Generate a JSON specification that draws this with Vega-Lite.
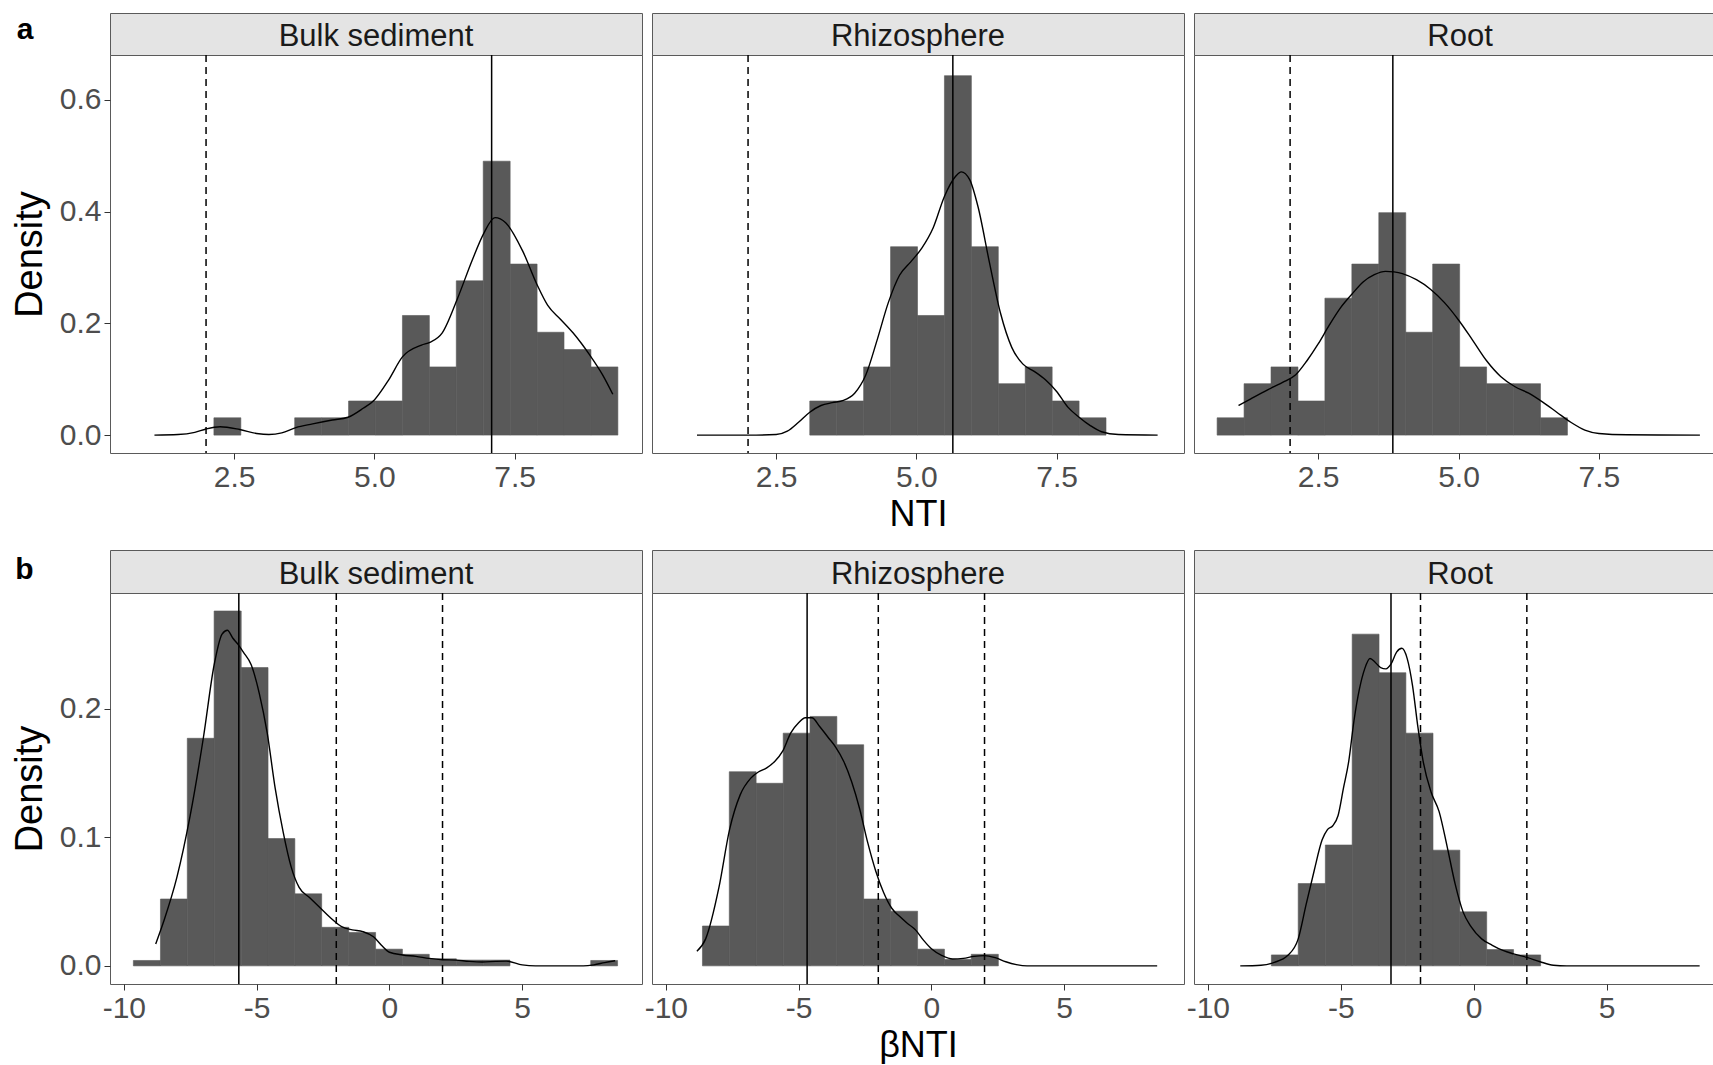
{
  "$schema": "https://vega.github.io/schema/vega-lite/v6.json",
  "background": "white",
  "padding": {"left": 10, "top": 12, "right": 0, "bottom": 0},
  "autosize": {"type": "pad"},
  "config": {
    "font": "Liberation Sans",
    "view": {"stroke": "#5a5a5a", "strokeWidth": 1},
    "axis": {"domain": false, "grid": false, "ticks": true, "tickColor": "#333333", "tickSize": 6, "tickWidth": 1, "labelFont": "Liberation Sans", "labelFontSize": 30, "labelColor": "#4d4d4d", "labelPadding": 3, "labelFlush": false, "titleFont": "Liberation Sans", "titleFontSize": 38, "titleFontWeight": "normal", "titleColor": "#000000"},
    "axisX": {"titlePadding": 5, "titleFontSize": 36},
    "axisY": {"titlePadding": 10},
    "legend": {"disable": true}
  },
  "datasets": {
    "bars": [
      {"row": "a", "panel": "Bulk sediment", "x0": 2.14, "x1": 2.62, "density": 0.031},
      {"row": "a", "panel": "Bulk sediment", "x0": 3.58, "x1": 4.06, "density": 0.031},
      {"row": "a", "panel": "Bulk sediment", "x0": 4.06, "x1": 4.54, "density": 0.031},
      {"row": "a", "panel": "Bulk sediment", "x0": 4.54, "x1": 5.02, "density": 0.061},
      {"row": "a", "panel": "Bulk sediment", "x0": 5.02, "x1": 5.50, "density": 0.061},
      {"row": "a", "panel": "Bulk sediment", "x0": 5.50, "x1": 5.98, "density": 0.214},
      {"row": "a", "panel": "Bulk sediment", "x0": 5.98, "x1": 6.46, "density": 0.122},
      {"row": "a", "panel": "Bulk sediment", "x0": 6.46, "x1": 6.94, "density": 0.276},
      {"row": "a", "panel": "Bulk sediment", "x0": 6.94, "x1": 7.42, "density": 0.490},
      {"row": "a", "panel": "Bulk sediment", "x0": 7.42, "x1": 7.90, "density": 0.306},
      {"row": "a", "panel": "Bulk sediment", "x0": 7.90, "x1": 8.38, "density": 0.184},
      {"row": "a", "panel": "Bulk sediment", "x0": 8.38, "x1": 8.86, "density": 0.153},
      {"row": "a", "panel": "Bulk sediment", "x0": 8.86, "x1": 9.34, "density": 0.122},
      {"row": "a", "panel": "Rhizosphere", "x0": 3.10, "x1": 3.58, "density": 0.061},
      {"row": "a", "panel": "Rhizosphere", "x0": 3.58, "x1": 4.06, "density": 0.061},
      {"row": "a", "panel": "Rhizosphere", "x0": 4.06, "x1": 4.54, "density": 0.122},
      {"row": "a", "panel": "Rhizosphere", "x0": 4.54, "x1": 5.02, "density": 0.337},
      {"row": "a", "panel": "Rhizosphere", "x0": 5.02, "x1": 5.50, "density": 0.214},
      {"row": "a", "panel": "Rhizosphere", "x0": 5.50, "x1": 5.98, "density": 0.643},
      {"row": "a", "panel": "Rhizosphere", "x0": 5.98, "x1": 6.46, "density": 0.337},
      {"row": "a", "panel": "Rhizosphere", "x0": 6.46, "x1": 6.94, "density": 0.092},
      {"row": "a", "panel": "Rhizosphere", "x0": 6.94, "x1": 7.42, "density": 0.122},
      {"row": "a", "panel": "Rhizosphere", "x0": 7.42, "x1": 7.90, "density": 0.061},
      {"row": "a", "panel": "Rhizosphere", "x0": 7.90, "x1": 8.38, "density": 0.031},
      {"row": "a", "panel": "Root", "x0": 0.70, "x1": 1.18, "density": 0.031},
      {"row": "a", "panel": "Root", "x0": 1.18, "x1": 1.66, "density": 0.092},
      {"row": "a", "panel": "Root", "x0": 1.66, "x1": 2.14, "density": 0.122},
      {"row": "a", "panel": "Root", "x0": 2.14, "x1": 2.62, "density": 0.061},
      {"row": "a", "panel": "Root", "x0": 2.62, "x1": 3.10, "density": 0.245},
      {"row": "a", "panel": "Root", "x0": 3.10, "x1": 3.58, "density": 0.306},
      {"row": "a", "panel": "Root", "x0": 3.58, "x1": 4.06, "density": 0.398},
      {"row": "a", "panel": "Root", "x0": 4.06, "x1": 4.54, "density": 0.184},
      {"row": "a", "panel": "Root", "x0": 4.54, "x1": 5.02, "density": 0.306},
      {"row": "a", "panel": "Root", "x0": 5.02, "x1": 5.50, "density": 0.122},
      {"row": "a", "panel": "Root", "x0": 5.50, "x1": 5.98, "density": 0.092},
      {"row": "a", "panel": "Root", "x0": 5.98, "x1": 6.46, "density": 0.092},
      {"row": "a", "panel": "Root", "x0": 6.46, "x1": 6.94, "density": 0.031},
      {"row": "b", "panel": "Bulk sediment", "x0": -9.64, "x1": -8.62, "density": 0.0042},
      {"row": "b", "panel": "Bulk sediment", "x0": -8.62, "x1": -7.61, "density": 0.052},
      {"row": "b", "panel": "Bulk sediment", "x0": -7.61, "x1": -6.60, "density": 0.177},
      {"row": "b", "panel": "Bulk sediment", "x0": -6.60, "x1": -5.58, "density": 0.276},
      {"row": "b", "panel": "Bulk sediment", "x0": -5.58, "x1": -4.57, "density": 0.232},
      {"row": "b", "panel": "Bulk sediment", "x0": -4.57, "x1": -3.56, "density": 0.099},
      {"row": "b", "panel": "Bulk sediment", "x0": -3.56, "x1": -2.55, "density": 0.056},
      {"row": "b", "panel": "Bulk sediment", "x0": -2.55, "x1": -1.53, "density": 0.030},
      {"row": "b", "panel": "Bulk sediment", "x0": -1.53, "x1": -0.52, "density": 0.026},
      {"row": "b", "panel": "Bulk sediment", "x0": -0.52, "x1": 0.49, "density": 0.013},
      {"row": "b", "panel": "Bulk sediment", "x0": 0.49, "x1": 1.50, "density": 0.009},
      {"row": "b", "panel": "Bulk sediment", "x0": 1.50, "x1": 2.52, "density": 0.0055},
      {"row": "b", "panel": "Bulk sediment", "x0": 2.52, "x1": 3.53, "density": 0.0045},
      {"row": "b", "panel": "Bulk sediment", "x0": 3.53, "x1": 4.54, "density": 0.0045},
      {"row": "b", "panel": "Bulk sediment", "x0": 7.58, "x1": 8.59, "density": 0.0042},
      {"row": "b", "panel": "Rhizosphere", "x0": -8.62, "x1": -7.61, "density": 0.031},
      {"row": "b", "panel": "Rhizosphere", "x0": -7.61, "x1": -6.60, "density": 0.151},
      {"row": "b", "panel": "Rhizosphere", "x0": -6.60, "x1": -5.58, "density": 0.142},
      {"row": "b", "panel": "Rhizosphere", "x0": -5.58, "x1": -4.57, "density": 0.181},
      {"row": "b", "panel": "Rhizosphere", "x0": -4.57, "x1": -3.56, "density": 0.194},
      {"row": "b", "panel": "Rhizosphere", "x0": -3.56, "x1": -2.55, "density": 0.172},
      {"row": "b", "panel": "Rhizosphere", "x0": -2.55, "x1": -1.53, "density": 0.052},
      {"row": "b", "panel": "Rhizosphere", "x0": -1.53, "x1": -0.52, "density": 0.0425},
      {"row": "b", "panel": "Rhizosphere", "x0": -0.52, "x1": 0.49, "density": 0.013},
      {"row": "b", "panel": "Rhizosphere", "x0": 0.49, "x1": 1.50, "density": 0.005},
      {"row": "b", "panel": "Rhizosphere", "x0": 1.50, "x1": 2.52, "density": 0.009},
      {"row": "b", "panel": "Root", "x0": -7.61, "x1": -6.60, "density": 0.0085},
      {"row": "b", "panel": "Root", "x0": -6.60, "x1": -5.58, "density": 0.064},
      {"row": "b", "panel": "Root", "x0": -5.58, "x1": -4.57, "density": 0.094},
      {"row": "b", "panel": "Root", "x0": -4.57, "x1": -3.56, "density": 0.258},
      {"row": "b", "panel": "Root", "x0": -3.56, "x1": -2.55, "density": 0.228},
      {"row": "b", "panel": "Root", "x0": -2.55, "x1": -1.53, "density": 0.181},
      {"row": "b", "panel": "Root", "x0": -1.53, "x1": -0.52, "density": 0.090},
      {"row": "b", "panel": "Root", "x0": -0.52, "x1": 0.49, "density": 0.042},
      {"row": "b", "panel": "Root", "x0": 0.49, "x1": 1.50, "density": 0.0127},
      {"row": "b", "panel": "Root", "x0": 1.50, "x1": 2.52, "density": 0.0085}
    ],
    "dens": [
      {"row": "a", "panel": "Bulk sediment", "x": 1.08, "density": 0.0},
      {"row": "a", "panel": "Bulk sediment", "x": 1.5, "density": 0.001},
      {"row": "a", "panel": "Bulk sediment", "x": 1.8, "density": 0.005},
      {"row": "a", "panel": "Bulk sediment", "x": 2.0, "density": 0.011},
      {"row": "a", "panel": "Bulk sediment", "x": 2.25, "density": 0.015},
      {"row": "a", "panel": "Bulk sediment", "x": 2.6, "density": 0.010},
      {"row": "a", "panel": "Bulk sediment", "x": 2.9, "density": 0.003},
      {"row": "a", "panel": "Bulk sediment", "x": 3.12, "density": 0.001},
      {"row": "a", "panel": "Bulk sediment", "x": 3.35, "density": 0.004},
      {"row": "a", "panel": "Bulk sediment", "x": 3.6, "density": 0.0135},
      {"row": "a", "panel": "Bulk sediment", "x": 3.9, "density": 0.020},
      {"row": "a", "panel": "Bulk sediment", "x": 4.25, "density": 0.027},
      {"row": "a", "panel": "Bulk sediment", "x": 4.53, "density": 0.032},
      {"row": "a", "panel": "Bulk sediment", "x": 4.8, "density": 0.048},
      {"row": "a", "panel": "Bulk sediment", "x": 5.0, "density": 0.063},
      {"row": "a", "panel": "Bulk sediment", "x": 5.25, "density": 0.098},
      {"row": "a", "panel": "Bulk sediment", "x": 5.5, "density": 0.140},
      {"row": "a", "panel": "Bulk sediment", "x": 5.84, "density": 0.161},
      {"row": "a", "panel": "Bulk sediment", "x": 5.99, "density": 0.166},
      {"row": "a", "panel": "Bulk sediment", "x": 6.21, "density": 0.183},
      {"row": "a", "panel": "Bulk sediment", "x": 6.48, "density": 0.244},
      {"row": "a", "panel": "Bulk sediment", "x": 6.74, "density": 0.312},
      {"row": "a", "panel": "Bulk sediment", "x": 6.95, "density": 0.361},
      {"row": "a", "panel": "Bulk sediment", "x": 7.15, "density": 0.389},
      {"row": "a", "panel": "Bulk sediment", "x": 7.34, "density": 0.380},
      {"row": "a", "panel": "Bulk sediment", "x": 7.64, "density": 0.330},
      {"row": "a", "panel": "Bulk sediment", "x": 7.9, "density": 0.269},
      {"row": "a", "panel": "Bulk sediment", "x": 8.09, "density": 0.232},
      {"row": "a", "panel": "Bulk sediment", "x": 8.32, "density": 0.207},
      {"row": "a", "panel": "Bulk sediment", "x": 8.54, "density": 0.183},
      {"row": "a", "panel": "Bulk sediment", "x": 8.84, "density": 0.143},
      {"row": "a", "panel": "Bulk sediment", "x": 9.06, "density": 0.109},
      {"row": "a", "panel": "Bulk sediment", "x": 9.25, "density": 0.073},
      {"row": "a", "panel": "Rhizosphere", "x": 1.09, "density": 0.0},
      {"row": "a", "panel": "Rhizosphere", "x": 2.0, "density": 0.0},
      {"row": "a", "panel": "Rhizosphere", "x": 2.5, "density": 0.001},
      {"row": "a", "panel": "Rhizosphere", "x": 2.7, "density": 0.007},
      {"row": "a", "panel": "Rhizosphere", "x": 2.9, "density": 0.023},
      {"row": "a", "panel": "Rhizosphere", "x": 3.1, "density": 0.041},
      {"row": "a", "panel": "Rhizosphere", "x": 3.3, "density": 0.053},
      {"row": "a", "panel": "Rhizosphere", "x": 3.5, "density": 0.058},
      {"row": "a", "panel": "Rhizosphere", "x": 3.7, "density": 0.062},
      {"row": "a", "panel": "Rhizosphere", "x": 3.9, "density": 0.075},
      {"row": "a", "panel": "Rhizosphere", "x": 4.1, "density": 0.108},
      {"row": "a", "panel": "Rhizosphere", "x": 4.3, "density": 0.170},
      {"row": "a", "panel": "Rhizosphere", "x": 4.5, "density": 0.237},
      {"row": "a", "panel": "Rhizosphere", "x": 4.7, "density": 0.286},
      {"row": "a", "panel": "Rhizosphere", "x": 4.9, "density": 0.310},
      {"row": "a", "panel": "Rhizosphere", "x": 5.1, "density": 0.335},
      {"row": "a", "panel": "Rhizosphere", "x": 5.3, "density": 0.371},
      {"row": "a", "panel": "Rhizosphere", "x": 5.5, "density": 0.427},
      {"row": "a", "panel": "Rhizosphere", "x": 5.7, "density": 0.463},
      {"row": "a", "panel": "Rhizosphere", "x": 5.8, "density": 0.471},
      {"row": "a", "panel": "Rhizosphere", "x": 5.95, "density": 0.457},
      {"row": "a", "panel": "Rhizosphere", "x": 6.1, "density": 0.408},
      {"row": "a", "panel": "Rhizosphere", "x": 6.3, "density": 0.310},
      {"row": "a", "panel": "Rhizosphere", "x": 6.5, "density": 0.218},
      {"row": "a", "panel": "Rhizosphere", "x": 6.7, "density": 0.157},
      {"row": "a", "panel": "Rhizosphere", "x": 6.9, "density": 0.127},
      {"row": "a", "panel": "Rhizosphere", "x": 7.1, "density": 0.114},
      {"row": "a", "panel": "Rhizosphere", "x": 7.3, "density": 0.099},
      {"row": "a", "panel": "Rhizosphere", "x": 7.5, "density": 0.078},
      {"row": "a", "panel": "Rhizosphere", "x": 7.7, "density": 0.050},
      {"row": "a", "panel": "Rhizosphere", "x": 7.9, "density": 0.032},
      {"row": "a", "panel": "Rhizosphere", "x": 8.1, "density": 0.017},
      {"row": "a", "panel": "Rhizosphere", "x": 8.3, "density": 0.006},
      {"row": "a", "panel": "Rhizosphere", "x": 8.6, "density": 0.001},
      {"row": "a", "panel": "Rhizosphere", "x": 9.3, "density": 0.0},
      {"row": "a", "panel": "Root", "x": 1.08, "density": 0.053},
      {"row": "a", "panel": "Root", "x": 1.3, "density": 0.065},
      {"row": "a", "panel": "Root", "x": 1.6, "density": 0.081},
      {"row": "a", "panel": "Root", "x": 1.9, "density": 0.096},
      {"row": "a", "panel": "Root", "x": 2.1, "density": 0.108},
      {"row": "a", "panel": "Root", "x": 2.3, "density": 0.133},
      {"row": "a", "panel": "Root", "x": 2.5, "density": 0.163},
      {"row": "a", "panel": "Root", "x": 2.7, "density": 0.197},
      {"row": "a", "panel": "Root", "x": 2.9, "density": 0.228},
      {"row": "a", "panel": "Root", "x": 3.1, "density": 0.252},
      {"row": "a", "panel": "Root", "x": 3.3, "density": 0.274},
      {"row": "a", "panel": "Root", "x": 3.5, "density": 0.287},
      {"row": "a", "panel": "Root", "x": 3.7, "density": 0.293},
      {"row": "a", "panel": "Root", "x": 3.85, "density": 0.292},
      {"row": "a", "panel": "Root", "x": 4.0, "density": 0.289},
      {"row": "a", "panel": "Root", "x": 4.25, "density": 0.278},
      {"row": "a", "panel": "Root", "x": 4.5, "density": 0.261},
      {"row": "a", "panel": "Root", "x": 4.75, "density": 0.237},
      {"row": "a", "panel": "Root", "x": 5.0, "density": 0.206},
      {"row": "a", "panel": "Root", "x": 5.25, "density": 0.170},
      {"row": "a", "panel": "Root", "x": 5.5, "density": 0.133},
      {"row": "a", "panel": "Root", "x": 5.75, "density": 0.105},
      {"row": "a", "panel": "Root", "x": 6.0, "density": 0.087},
      {"row": "a", "panel": "Root", "x": 6.25, "density": 0.075},
      {"row": "a", "panel": "Root", "x": 6.5, "density": 0.059},
      {"row": "a", "panel": "Root", "x": 6.75, "density": 0.041},
      {"row": "a", "panel": "Root", "x": 7.0, "density": 0.023},
      {"row": "a", "panel": "Root", "x": 7.25, "density": 0.009},
      {"row": "a", "panel": "Root", "x": 7.5, "density": 0.003},
      {"row": "a", "panel": "Root", "x": 8.0, "density": 0.0006},
      {"row": "a", "panel": "Root", "x": 9.3, "density": 0.0},
      {"row": "b", "panel": "Bulk sediment", "x": -8.8, "density": 0.017},
      {"row": "b", "panel": "Bulk sediment", "x": -8.5, "density": 0.0345},
      {"row": "b", "panel": "Bulk sediment", "x": -8.0, "density": 0.069},
      {"row": "b", "panel": "Bulk sediment", "x": -7.5, "density": 0.117},
      {"row": "b", "panel": "Bulk sediment", "x": -7.0, "density": 0.178},
      {"row": "b", "panel": "Bulk sediment", "x": -6.6, "density": 0.234},
      {"row": "b", "panel": "Bulk sediment", "x": -6.3, "density": 0.258},
      {"row": "b", "panel": "Bulk sediment", "x": -6.1, "density": 0.261},
      {"row": "b", "panel": "Bulk sediment", "x": -5.9, "density": 0.255},
      {"row": "b", "panel": "Bulk sediment", "x": -5.7, "density": 0.250},
      {"row": "b", "panel": "Bulk sediment", "x": -5.5, "density": 0.244},
      {"row": "b", "panel": "Bulk sediment", "x": -5.2, "density": 0.234},
      {"row": "b", "panel": "Bulk sediment", "x": -4.9, "density": 0.212},
      {"row": "b", "panel": "Bulk sediment", "x": -4.6, "density": 0.181},
      {"row": "b", "panel": "Bulk sediment", "x": -4.3, "density": 0.138},
      {"row": "b", "panel": "Bulk sediment", "x": -4.0, "density": 0.104},
      {"row": "b", "panel": "Bulk sediment", "x": -3.7, "density": 0.077},
      {"row": "b", "panel": "Bulk sediment", "x": -3.4, "density": 0.061},
      {"row": "b", "panel": "Bulk sediment", "x": -3.0, "density": 0.053},
      {"row": "b", "panel": "Bulk sediment", "x": -2.6, "density": 0.045},
      {"row": "b", "panel": "Bulk sediment", "x": -2.2, "density": 0.037},
      {"row": "b", "panel": "Bulk sediment", "x": -1.8, "density": 0.0305},
      {"row": "b", "panel": "Bulk sediment", "x": -1.4, "density": 0.028},
      {"row": "b", "panel": "Bulk sediment", "x": -1.0, "density": 0.0266},
      {"row": "b", "panel": "Bulk sediment", "x": -0.6, "density": 0.0226},
      {"row": "b", "panel": "Bulk sediment", "x": -0.3, "density": 0.016},
      {"row": "b", "panel": "Bulk sediment", "x": 0.0, "density": 0.0106},
      {"row": "b", "panel": "Bulk sediment", "x": 0.5, "density": 0.0085},
      {"row": "b", "panel": "Bulk sediment", "x": 1.0, "density": 0.0074},
      {"row": "b", "panel": "Bulk sediment", "x": 1.5, "density": 0.0058},
      {"row": "b", "panel": "Bulk sediment", "x": 2.0, "density": 0.0048},
      {"row": "b", "panel": "Bulk sediment", "x": 2.5, "density": 0.0045},
      {"row": "b", "panel": "Bulk sediment", "x": 3.0, "density": 0.0035},
      {"row": "b", "panel": "Bulk sediment", "x": 3.5, "density": 0.003},
      {"row": "b", "panel": "Bulk sediment", "x": 4.0, "density": 0.0035},
      {"row": "b", "panel": "Bulk sediment", "x": 4.4, "density": 0.0037},
      {"row": "b", "panel": "Bulk sediment", "x": 5.0, "density": 0.0008},
      {"row": "b", "panel": "Bulk sediment", "x": 5.5, "density": 0.0},
      {"row": "b", "panel": "Bulk sediment", "x": 7.3, "density": 0.0},
      {"row": "b", "panel": "Bulk sediment", "x": 7.7, "density": 0.0008},
      {"row": "b", "panel": "Bulk sediment", "x": 8.1, "density": 0.0025},
      {"row": "b", "panel": "Bulk sediment", "x": 8.5, "density": 0.004},
      {"row": "b", "panel": "Rhizosphere", "x": -8.83, "density": 0.0114},
      {"row": "b", "panel": "Rhizosphere", "x": -8.5, "density": 0.021},
      {"row": "b", "panel": "Rhizosphere", "x": -8.0, "density": 0.061},
      {"row": "b", "panel": "Rhizosphere", "x": -7.6, "density": 0.106},
      {"row": "b", "panel": "Rhizosphere", "x": -7.2, "density": 0.133},
      {"row": "b", "panel": "Rhizosphere", "x": -6.8, "density": 0.146},
      {"row": "b", "panel": "Rhizosphere", "x": -6.5, "density": 0.151},
      {"row": "b", "panel": "Rhizosphere", "x": -6.2, "density": 0.154},
      {"row": "b", "panel": "Rhizosphere", "x": -5.9, "density": 0.159},
      {"row": "b", "panel": "Rhizosphere", "x": -5.6, "density": 0.167},
      {"row": "b", "panel": "Rhizosphere", "x": -5.3, "density": 0.181},
      {"row": "b", "panel": "Rhizosphere", "x": -5.0, "density": 0.189},
      {"row": "b", "panel": "Rhizosphere", "x": -4.75, "density": 0.193},
      {"row": "b", "panel": "Rhizosphere", "x": -4.5, "density": 0.193},
      {"row": "b", "panel": "Rhizosphere", "x": -4.2, "density": 0.186},
      {"row": "b", "panel": "Rhizosphere", "x": -3.9, "density": 0.178},
      {"row": "b", "panel": "Rhizosphere", "x": -3.6, "density": 0.170},
      {"row": "b", "panel": "Rhizosphere", "x": -3.3, "density": 0.159},
      {"row": "b", "panel": "Rhizosphere", "x": -3.0, "density": 0.143},
      {"row": "b", "panel": "Rhizosphere", "x": -2.7, "density": 0.122},
      {"row": "b", "panel": "Rhizosphere", "x": -2.4, "density": 0.096},
      {"row": "b", "panel": "Rhizosphere", "x": -2.1, "density": 0.074},
      {"row": "b", "panel": "Rhizosphere", "x": -1.8, "density": 0.057},
      {"row": "b", "panel": "Rhizosphere", "x": -1.5, "density": 0.045},
      {"row": "b", "panel": "Rhizosphere", "x": -1.2, "density": 0.0385},
      {"row": "b", "panel": "Rhizosphere", "x": -0.9, "density": 0.033},
      {"row": "b", "panel": "Rhizosphere", "x": -0.6, "density": 0.028},
      {"row": "b", "panel": "Rhizosphere", "x": -0.3, "density": 0.020},
      {"row": "b", "panel": "Rhizosphere", "x": 0.0, "density": 0.0133},
      {"row": "b", "panel": "Rhizosphere", "x": 0.4, "density": 0.008},
      {"row": "b", "panel": "Rhizosphere", "x": 0.8, "density": 0.0053},
      {"row": "b", "panel": "Rhizosphere", "x": 1.2, "density": 0.0058},
      {"row": "b", "panel": "Rhizosphere", "x": 1.6, "density": 0.0074},
      {"row": "b", "panel": "Rhizosphere", "x": 2.0, "density": 0.008},
      {"row": "b", "panel": "Rhizosphere", "x": 2.4, "density": 0.0064},
      {"row": "b", "panel": "Rhizosphere", "x": 2.8, "density": 0.0032},
      {"row": "b", "panel": "Rhizosphere", "x": 3.2, "density": 0.001},
      {"row": "b", "panel": "Rhizosphere", "x": 3.6, "density": 0.0},
      {"row": "b", "panel": "Rhizosphere", "x": 8.5, "density": 0.0},
      {"row": "b", "panel": "Root", "x": -8.78, "density": 0.0},
      {"row": "b", "panel": "Root", "x": -8.0, "density": 0.0005},
      {"row": "b", "panel": "Root", "x": -7.5, "density": 0.0027},
      {"row": "b", "panel": "Root", "x": -7.0, "density": 0.008},
      {"row": "b", "panel": "Root", "x": -6.6, "density": 0.021},
      {"row": "b", "panel": "Root", "x": -6.3, "density": 0.048},
      {"row": "b", "panel": "Root", "x": -6.0, "density": 0.074},
      {"row": "b", "panel": "Root", "x": -5.7, "density": 0.098},
      {"row": "b", "panel": "Root", "x": -5.5, "density": 0.106},
      {"row": "b", "panel": "Root", "x": -5.3, "density": 0.109},
      {"row": "b", "panel": "Root", "x": -5.1, "density": 0.117},
      {"row": "b", "panel": "Root", "x": -4.9, "density": 0.138},
      {"row": "b", "panel": "Root", "x": -4.7, "density": 0.159},
      {"row": "b", "panel": "Root", "x": -4.5, "density": 0.191},
      {"row": "b", "panel": "Root", "x": -4.3, "density": 0.215},
      {"row": "b", "panel": "Root", "x": -4.1, "density": 0.231},
      {"row": "b", "panel": "Root", "x": -3.9, "density": 0.239},
      {"row": "b", "panel": "Root", "x": -3.7, "density": 0.236},
      {"row": "b", "panel": "Root", "x": -3.5, "density": 0.232},
      {"row": "b", "panel": "Root", "x": -3.3, "density": 0.231},
      {"row": "b", "panel": "Root", "x": -3.1, "density": 0.235},
      {"row": "b", "panel": "Root", "x": -2.9, "density": 0.244},
      {"row": "b", "panel": "Root", "x": -2.7, "density": 0.247},
      {"row": "b", "panel": "Root", "x": -2.5, "density": 0.239},
      {"row": "b", "panel": "Root", "x": -2.3, "density": 0.218},
      {"row": "b", "panel": "Root", "x": -2.1, "density": 0.186},
      {"row": "b", "panel": "Root", "x": -1.9, "density": 0.159},
      {"row": "b", "panel": "Root", "x": -1.6, "density": 0.135},
      {"row": "b", "panel": "Root", "x": -1.3, "density": 0.120},
      {"row": "b", "panel": "Root", "x": -1.0, "density": 0.093},
      {"row": "b", "panel": "Root", "x": -0.7, "density": 0.064},
      {"row": "b", "panel": "Root", "x": -0.4, "density": 0.042},
      {"row": "b", "panel": "Root", "x": -0.1, "density": 0.0305},
      {"row": "b", "panel": "Root", "x": 0.3, "density": 0.021},
      {"row": "b", "panel": "Root", "x": 0.7, "density": 0.016},
      {"row": "b", "panel": "Root", "x": 1.1, "density": 0.012},
      {"row": "b", "panel": "Root", "x": 1.5, "density": 0.0093},
      {"row": "b", "panel": "Root", "x": 2.0, "density": 0.0066},
      {"row": "b", "panel": "Root", "x": 2.5, "density": 0.0032},
      {"row": "b", "panel": "Root", "x": 3.0, "density": 0.0005},
      {"row": "b", "panel": "Root", "x": 3.5, "density": 0.0},
      {"row": "b", "panel": "Root", "x": 8.5, "density": 0.0}
    ],
    "vlines": [
      {"row": "a", "panel": "Bulk sediment", "x": 7.09, "style": "solid"},
      {"row": "a", "panel": "Bulk sediment", "x": 2, "style": "dashed"},
      {"row": "a", "panel": "Rhizosphere", "x": 5.65, "style": "solid"},
      {"row": "a", "panel": "Rhizosphere", "x": 2, "style": "dashed"},
      {"row": "a", "panel": "Root", "x": 3.83, "style": "solid"},
      {"row": "a", "panel": "Root", "x": 2, "style": "dashed"},
      {"row": "b", "panel": "Bulk sediment", "x": -5.67, "style": "solid"},
      {"row": "b", "panel": "Bulk sediment", "x": -2, "style": "dashed"},
      {"row": "b", "panel": "Bulk sediment", "x": 2, "style": "dashed"},
      {"row": "b", "panel": "Rhizosphere", "x": -4.68, "style": "solid"},
      {"row": "b", "panel": "Rhizosphere", "x": -2, "style": "dashed"},
      {"row": "b", "panel": "Rhizosphere", "x": 2, "style": "dashed"},
      {"row": "b", "panel": "Root", "x": -3.11, "style": "solid"},
      {"row": "b", "panel": "Root", "x": -2, "style": "dashed"},
      {"row": "b", "panel": "Root", "x": 2, "style": "dashed"}
    ]
  },
  "bounds": "flush",
  "columns": 3,
  "spacing": {"row": 0, "column": 10},
  "concat": [
    {
      "width": 532, "height": 42,
      "title": {"text": "a", "orient": "left", "anchor": "middle", "angle": 0, "align": "right", "baseline": "middle", "offset": 60, "dy": -4, "fontSize": 30, "fontWeight": "bold", "font": "Liberation Sans", "color": "#000000"},
      "view": {"fill": "#e4e4e4", "stroke": "#5a5a5a"},
      "data": {"values": [{"label": "Bulk sediment"}]},
      "mark": {"type": "text", "fontSize": 31, "color": "#1a1a1a", "baseline": "middle", "dy": 3},
      "encoding": {"text": {"field": "label", "type": "nominal"}}
    },
    {
      "width": 532, "height": 42,
      "view": {"fill": "#e4e4e4", "stroke": "#5a5a5a"},
      "data": {"values": [{"label": "Rhizosphere"}]},
      "mark": {"type": "text", "fontSize": 31, "color": "#1a1a1a", "baseline": "middle", "dy": 3},
      "encoding": {"text": {"field": "label", "type": "nominal"}}
    },
    {
      "width": 520, "height": 42,
      "view": {"fill": "#e4e4e4", "stroke": "#5a5a5a"},
      "data": {"values": [{"label": "Root"}]},
      "mark": {"type": "text", "fontSize": 31, "color": "#1a1a1a", "baseline": "middle", "dy": 3, "dx": 6},
      "encoding": {"text": {"field": "label", "type": "nominal"}}
    },
    {
      "width": 532, "height": 398,
      "layer": [
        {"data": {"name": "bars"}, "transform": [{"filter": "datum.row === 'a' && datum.panel === 'Bulk sediment'"}],
         "mark": {"type": "rect", "color": "#595959", "stroke": "#595959", "strokeWidth": 0.6},
         "encoding": {
           "x": {"field": "x0", "type": "quantitative", "scale": {"domain": [0.288, 9.77], "nice": false, "zero": false}, "axis": {"values": [2.5, 5, 7.5], "format": ".1f", "title": null}},
           "x2": {"field": "x1"},
           "y": {"field": "density", "type": "quantitative", "scale": {"domain": [-0.032, 0.68], "nice": false, "zero": false}, "axis": {"values": [0, 0.2, 0.4, 0.6], "format": ".1f", "title": "Density"}},
           "y2": {"datum": 0}}},
        {"data": {"name": "dens"}, "transform": [{"filter": "datum.row === 'a' && datum.panel === 'Bulk sediment'"}],
         "mark": {"type": "line", "color": "#000000", "strokeWidth": 1.4, "interpolate": "monotone"},
         "encoding": {"x": {"field": "x", "type": "quantitative"}, "y": {"field": "density", "type": "quantitative"}}},
        {"data": {"name": "vlines"}, "transform": [{"filter": "datum.row === 'a' && datum.panel === 'Bulk sediment'"}],
         "mark": {"type": "rule", "color": "#000000", "strokeWidth": 1.5},
         "encoding": {"x": {"field": "x", "type": "quantitative"}, "strokeDash": {"field": "style", "type": "nominal", "scale": {"domain": ["solid", "dashed"], "range": [[1, 0], [7, 5]]}, "legend": null}}}
      ]
    },
    {
      "width": 532, "height": 398,
      "layer": [
        {"data": {"name": "bars"}, "transform": [{"filter": "datum.row === 'a' && datum.panel === 'Rhizosphere'"}],
         "mark": {"type": "rect", "color": "#595959", "stroke": "#595959", "strokeWidth": 0.6},
         "encoding": {
           "x": {"field": "x0", "type": "quantitative", "scale": {"domain": [0.288, 9.77], "nice": false, "zero": false}, "axis": {"values": [2.5, 5, 7.5], "format": ".1f", "title": "NTI"}},
           "x2": {"field": "x1"},
           "y": {"field": "density", "type": "quantitative", "scale": {"domain": [-0.032, 0.68], "nice": false, "zero": false}, "axis": null},
           "y2": {"datum": 0}}},
        {"data": {"name": "dens"}, "transform": [{"filter": "datum.row === 'a' && datum.panel === 'Rhizosphere'"}],
         "mark": {"type": "line", "color": "#000000", "strokeWidth": 1.4, "interpolate": "monotone"},
         "encoding": {"x": {"field": "x", "type": "quantitative"}, "y": {"field": "density", "type": "quantitative"}}},
        {"data": {"name": "vlines"}, "transform": [{"filter": "datum.row === 'a' && datum.panel === 'Rhizosphere'"}],
         "mark": {"type": "rule", "color": "#000000", "strokeWidth": 1.5},
         "encoding": {"x": {"field": "x", "type": "quantitative"}, "strokeDash": {"field": "style", "type": "nominal", "scale": {"domain": ["solid", "dashed"], "range": [[1, 0], [7, 5]]}, "legend": null}}}
      ]
    },
    {
      "width": 520, "height": 398,
      "layer": [
        {"data": {"name": "bars"}, "transform": [{"filter": "datum.row === 'a' && datum.panel === 'Root'"}],
         "mark": {"type": "rect", "color": "#595959", "stroke": "#595959", "strokeWidth": 0.6},
         "encoding": {
           "x": {"field": "x0", "type": "quantitative", "scale": {"domain": [0.288, 9.551], "nice": false, "zero": false}, "axis": {"values": [2.5, 5, 7.5], "format": ".1f", "title": null}},
           "x2": {"field": "x1"},
           "y": {"field": "density", "type": "quantitative", "scale": {"domain": [-0.032, 0.68], "nice": false, "zero": false}, "axis": null},
           "y2": {"datum": 0}}},
        {"data": {"name": "dens"}, "transform": [{"filter": "datum.row === 'a' && datum.panel === 'Root'"}],
         "mark": {"type": "line", "color": "#000000", "strokeWidth": 1.4, "interpolate": "monotone"},
         "encoding": {"x": {"field": "x", "type": "quantitative"}, "y": {"field": "density", "type": "quantitative"}}},
        {"data": {"name": "vlines"}, "transform": [{"filter": "datum.row === 'a' && datum.panel === 'Root'"}],
         "mark": {"type": "rule", "color": "#000000", "strokeWidth": 1.5},
         "encoding": {"x": {"field": "x", "type": "quantitative"}, "strokeDash": {"field": "style", "type": "nominal", "scale": {"domain": ["solid", "dashed"], "range": [[1, 0], [7, 5]]}, "legend": null}}}
      ]
    },
    {"width": 532, "height": 97, "view": {"stroke": null}, "data": {"values": []}, "mark": {"type": "text"}, "encoding": {}},
    {"width": 532, "height": 97, "view": {"stroke": null}, "data": {"values": []}, "mark": {"type": "text"}, "encoding": {}},
    {"width": 520, "height": 97, "view": {"stroke": null}, "data": {"values": []}, "mark": {"type": "text"}, "encoding": {}},
    {
      "width": 532, "height": 43,
      "title": {"text": "b", "orient": "left", "anchor": "middle", "angle": 0, "align": "right", "baseline": "middle", "offset": 58, "dy": -2, "fontSize": 30, "fontWeight": "bold", "font": "Liberation Sans", "color": "#000000"},
      "view": {"fill": "#e4e4e4", "stroke": "#5a5a5a"},
      "data": {"values": [{"label": "Bulk sediment"}]},
      "mark": {"type": "text", "fontSize": 31, "color": "#1a1a1a", "baseline": "middle", "dy": 3},
      "encoding": {"text": {"field": "label", "type": "nominal"}}
    },
    {
      "width": 532, "height": 43,
      "view": {"fill": "#e4e4e4", "stroke": "#5a5a5a"},
      "data": {"values": [{"label": "Rhizosphere"}]},
      "mark": {"type": "text", "fontSize": 31, "color": "#1a1a1a", "baseline": "middle", "dy": 3},
      "encoding": {"text": {"field": "label", "type": "nominal"}}
    },
    {
      "width": 520, "height": 43,
      "view": {"fill": "#e4e4e4", "stroke": "#5a5a5a"},
      "data": {"values": [{"label": "Root"}]},
      "mark": {"type": "text", "fontSize": 31, "color": "#1a1a1a", "baseline": "middle", "dy": 3, "dx": 6},
      "encoding": {"text": {"field": "label", "type": "nominal"}}
    },
    {
      "width": 532, "height": 391,
      "layer": [
        {"data": {"name": "bars"}, "transform": [{"filter": "datum.row === 'b' && datum.panel === 'Bulk sediment'"}],
         "mark": {"type": "rect", "color": "#595959", "stroke": "#595959", "strokeWidth": 0.6},
         "encoding": {
           "x": {"field": "x0", "type": "quantitative", "scale": {"domain": [-10.52, 9.51], "nice": false, "zero": false}, "axis": {"values": [-10, -5, 0, 5], "labelExpr": "'' + datum.value", "title": null}},
           "x2": {"field": "x1"},
           "y": {"field": "density", "type": "quantitative", "scale": {"domain": [-0.0141, 0.29], "nice": false, "zero": false}, "axis": {"values": [0, 0.1, 0.2], "format": ".1f", "title": "Density"}},
           "y2": {"datum": 0}}},
        {"data": {"name": "dens"}, "transform": [{"filter": "datum.row === 'b' && datum.panel === 'Bulk sediment'"}],
         "mark": {"type": "line", "color": "#000000", "strokeWidth": 1.4, "interpolate": "monotone"},
         "encoding": {"x": {"field": "x", "type": "quantitative"}, "y": {"field": "density", "type": "quantitative"}}},
        {"data": {"name": "vlines"}, "transform": [{"filter": "datum.row === 'b' && datum.panel === 'Bulk sediment'"}],
         "mark": {"type": "rule", "color": "#000000", "strokeWidth": 1.5},
         "encoding": {"x": {"field": "x", "type": "quantitative"}, "strokeDash": {"field": "style", "type": "nominal", "scale": {"domain": ["solid", "dashed"], "range": [[1, 0], [7, 5]]}, "legend": null}}}
      ]
    },
    {
      "width": 532, "height": 391,
      "layer": [
        {"data": {"name": "bars"}, "transform": [{"filter": "datum.row === 'b' && datum.panel === 'Rhizosphere'"}],
         "mark": {"type": "rect", "color": "#595959", "stroke": "#595959", "strokeWidth": 0.6},
         "encoding": {
           "x": {"field": "x0", "type": "quantitative", "scale": {"domain": [-10.52, 9.51], "nice": false, "zero": false}, "axis": {"values": [-10, -5, 0, 5], "labelExpr": "'' + datum.value", "title": "βNTI"}},
           "x2": {"field": "x1"},
           "y": {"field": "density", "type": "quantitative", "scale": {"domain": [-0.0141, 0.29], "nice": false, "zero": false}, "axis": null},
           "y2": {"datum": 0}}},
        {"data": {"name": "dens"}, "transform": [{"filter": "datum.row === 'b' && datum.panel === 'Rhizosphere'"}],
         "mark": {"type": "line", "color": "#000000", "strokeWidth": 1.4, "interpolate": "monotone"},
         "encoding": {"x": {"field": "x", "type": "quantitative"}, "y": {"field": "density", "type": "quantitative"}}},
        {"data": {"name": "vlines"}, "transform": [{"filter": "datum.row === 'b' && datum.panel === 'Rhizosphere'"}],
         "mark": {"type": "rule", "color": "#000000", "strokeWidth": 1.5},
         "encoding": {"x": {"field": "x", "type": "quantitative"}, "strokeDash": {"field": "style", "type": "nominal", "scale": {"domain": ["solid", "dashed"], "range": [[1, 0], [7, 5]]}, "legend": null}}}
      ]
    },
    {
      "width": 520, "height": 391,
      "layer": [
        {"data": {"name": "bars"}, "transform": [{"filter": "datum.row === 'b' && datum.panel === 'Root'"}],
         "mark": {"type": "rect", "color": "#595959", "stroke": "#595959", "strokeWidth": 0.6},
         "encoding": {
           "x": {"field": "x0", "type": "quantitative", "scale": {"domain": [-10.52, 9.04], "nice": false, "zero": false}, "axis": {"values": [-10, -5, 0, 5], "labelExpr": "'' + datum.value", "title": null}},
           "x2": {"field": "x1"},
           "y": {"field": "density", "type": "quantitative", "scale": {"domain": [-0.0141, 0.29], "nice": false, "zero": false}, "axis": null},
           "y2": {"datum": 0}}},
        {"data": {"name": "dens"}, "transform": [{"filter": "datum.row === 'b' && datum.panel === 'Root'"}],
         "mark": {"type": "line", "color": "#000000", "strokeWidth": 1.4, "interpolate": "monotone"},
         "encoding": {"x": {"field": "x", "type": "quantitative"}, "y": {"field": "density", "type": "quantitative"}}},
        {"data": {"name": "vlines"}, "transform": [{"filter": "datum.row === 'b' && datum.panel === 'Root'"}],
         "mark": {"type": "rule", "color": "#000000", "strokeWidth": 1.5},
         "encoding": {"x": {"field": "x", "type": "quantitative"}, "strokeDash": {"field": "style", "type": "nominal", "scale": {"domain": ["solid", "dashed"], "range": [[1, 0], [7, 5]]}, "legend": null}}}
      ]
    }
  ]
}
